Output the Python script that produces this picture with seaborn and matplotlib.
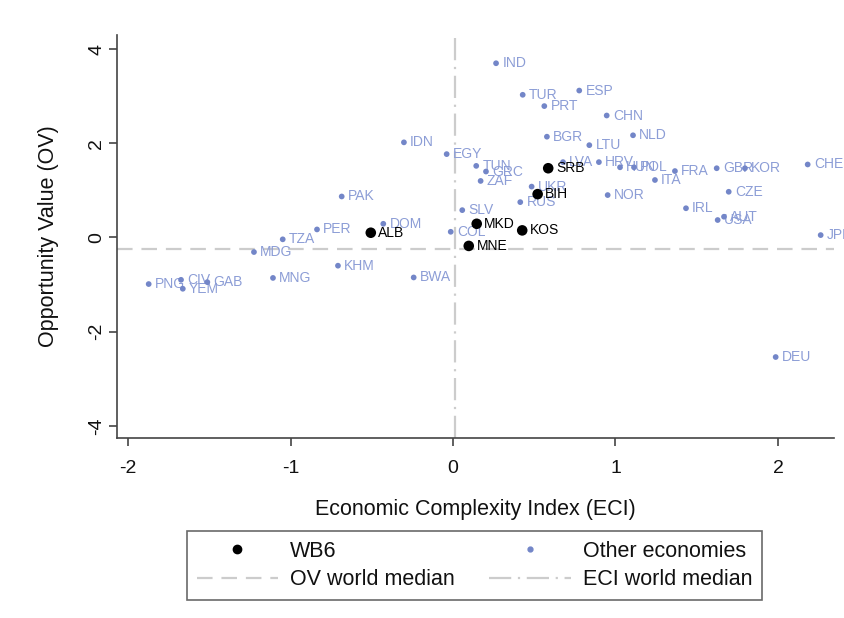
import matplotlib
matplotlib.use("Agg")
import matplotlib.pyplot as plt
from matplotlib.lines import Line2D
import seaborn as sns
import pandas as pd

# ---- data ----
wb6_codes = ["ALB", "MKD", "SRB", "BIH", "KOS", "MNE"]
wb6_eci = [-0.506, 0.146, 0.586, 0.521, 0.426, 0.097]
wb6_ov = [0.10, 0.29, 1.47, 0.92, 0.15, -0.18]

other_codes = ["IND", "TUR", "ESP", "PRT", "CHN", "BGR", "NLD", "LTU", "IDN", "EGY",
               "TUN", "GRC", "ZAF", "LVA", "HRV", "HUN", "POL", "ITA", "FRA", "GBR",
               "KOR", "CHE", "CZE", "NOR", "IRL", "AUT", "USA", "JPN", "DEU", "UKR",
               "RUS", "SLV", "COL", "DOM", "PAK", "PER", "TZA", "MDG", "KHM", "MNG",
               "BWA", "PNG", "CIV", "YEM", "GAB"]
other_eci = [0.265, 0.429, 0.777, 0.562, 0.946, 0.578, 1.108, 0.839, -0.302, -0.039,
             0.143, 0.203, 0.170, 0.677, 0.898, 1.028, 1.114, 1.243, 1.366, 1.623,
             1.797, 2.183, 1.697, 0.952, 1.434, 1.668, 1.629, 2.263, 1.986, 0.484,
             0.414, 0.057, -0.014, -0.429, -0.685, -0.837, -1.048, -1.225, -0.708, -1.108,
             -0.242, -1.873, -1.674, -1.663, -1.512]
other_ov = [3.70, 3.03, 3.12, 2.79, 2.59, 2.14, 2.17, 1.96, 2.02, 1.77,
            1.52, 1.40, 1.20, 1.60, 1.60, 1.49, 1.49, 1.22, 1.41, 1.47,
            1.47, 1.55, 0.97, 0.90, 0.62, 0.44, 0.37, 0.05, -2.54, 1.08,
            0.75, 0.58, 0.12, 0.29, 0.87, 0.17, -0.04, -0.31, -0.60, -0.86,
            -0.85, -0.99, -0.90, -1.09, -0.95]

ov_world_median = -0.255
eci_world_median = 0.012

x_ticks = [-2, -1, 0, 1, 2]
y_ticks = [-4, -2, 0, 2, 4]

# ---- style ----
sns.set_theme(style="white")
plt.rcParams["font.family"] = ["Liberation Sans", "DejaVu Sans"]

dot_blue = "#7386c8"
text_blue = "#8c9dd6"
axis_col = "#444444"
ref_col = "#cccccc"

W, H = 845, 618
fig = plt.figure(figsize=(W / 100, H / 100), dpi=100)
ax = fig.add_axes([117 / W, 1 - 438 / H, (834 - 117) / W, (438 - 35) / H])

df_other = pd.DataFrame({"eci": other_eci, "ov": other_ov, "code": other_codes})
df_wb6 = pd.DataFrame({"eci": wb6_eci, "ov": wb6_ov, "code": wb6_codes})

# reference lines
ax.axhline(ov_world_median, color=ref_col, lw=1.6, dashes=(7, 4), zorder=1)
ax.axvline(eci_world_median, color=ref_col, lw=1.6, dashes=(10, 3, 1, 3), zorder=1)

sns.scatterplot(data=df_other, x="eci", y="ov", ax=ax, color=dot_blue, s=17,
                edgecolor="none", zorder=3, legend=False)
sns.scatterplot(data=df_wb6, x="eci", y="ov", ax=ax, color="black", s=58,
                edgecolor="none", zorder=4, legend=False)

for x, y, c in zip(other_eci, other_ov, other_codes):
    ax.annotate(c, (x, y), xytext=(4.5, 0), textcoords="offset points",
                ha="left", va="center", fontsize=10, color=text_blue,
                zorder=2, annotation_clip=False)
for x, y, c in zip(wb6_eci, wb6_ov, wb6_codes):
    ax.annotate(c, (x, y), xytext=(5.5, 0), textcoords="offset points",
                ha="left", va="center", fontsize=10, color="black",
                zorder=5, annotation_clip=False)

ax.set_xlim(-2.068, 2.345)
ax.set_ylim(-4.26, 4.30)
ax.set_xticks(x_ticks)
ax.set_yticks(y_ticks)
ax.set_xticklabels([str(t) for t in x_ticks], fontsize=14, color="#111111")
ax.set_yticklabels([str(t) for t in y_ticks], fontsize=14, color="#111111",
                   rotation=90, va="center")
ax.tick_params(axis="x", direction="out", length=6, width=1.2, color=axis_col,
               bottom=True, pad=10)
ax.tick_params(axis="y", direction="out", length=6, width=1.2, color=axis_col,
               left=True, pad=2.5)
ax.set_xlabel("Economic Complexity Index (ECI)", fontsize=15.5, color="#111111", labelpad=16)
ax.set_ylabel("Opportunity Value (OV)", fontsize=15.5, color="#111111", labelpad=21)

for side in ["top", "right"]:
    ax.spines[side].set_visible(False)
for side in ["left", "bottom"]:
    ax.spines[side].set_color(axis_col)
    ax.spines[side].set_linewidth(1.2)

handles = [
    Line2D([], [], ls="none", marker="o", color="black", markersize=6),
    Line2D([], [], color=ref_col, lw=1.6, dashes=(7, 4)),
    Line2D([], [], ls="none", marker="o", color=dot_blue, markersize=3.5),
    Line2D([], [], color=ref_col, lw=1.6, dashes=(10, 3, 1, 3)),
]
labels = ["WB6", "OV world median", "Other economies", "ECI world median"]
leg = fig.legend(handles, labels, ncol=2, loc="center",
                 bbox_to_anchor=(474.5 / W, 1 - 565.5 / H),
                 frameon=True, fancybox=False, edgecolor="#444444",
                 fontsize=15.5, handlelength=3.8, handletextpad=0.55,
                 columnspacing=1.6, borderpad=0.45, labelspacing=0.35,
                 borderaxespad=0)
leg.get_frame().set_linewidth(1.2)
for t in leg.get_texts():
    t.set_color("#111111")

fig.savefig("out.png", dpi=100, facecolor="white")
